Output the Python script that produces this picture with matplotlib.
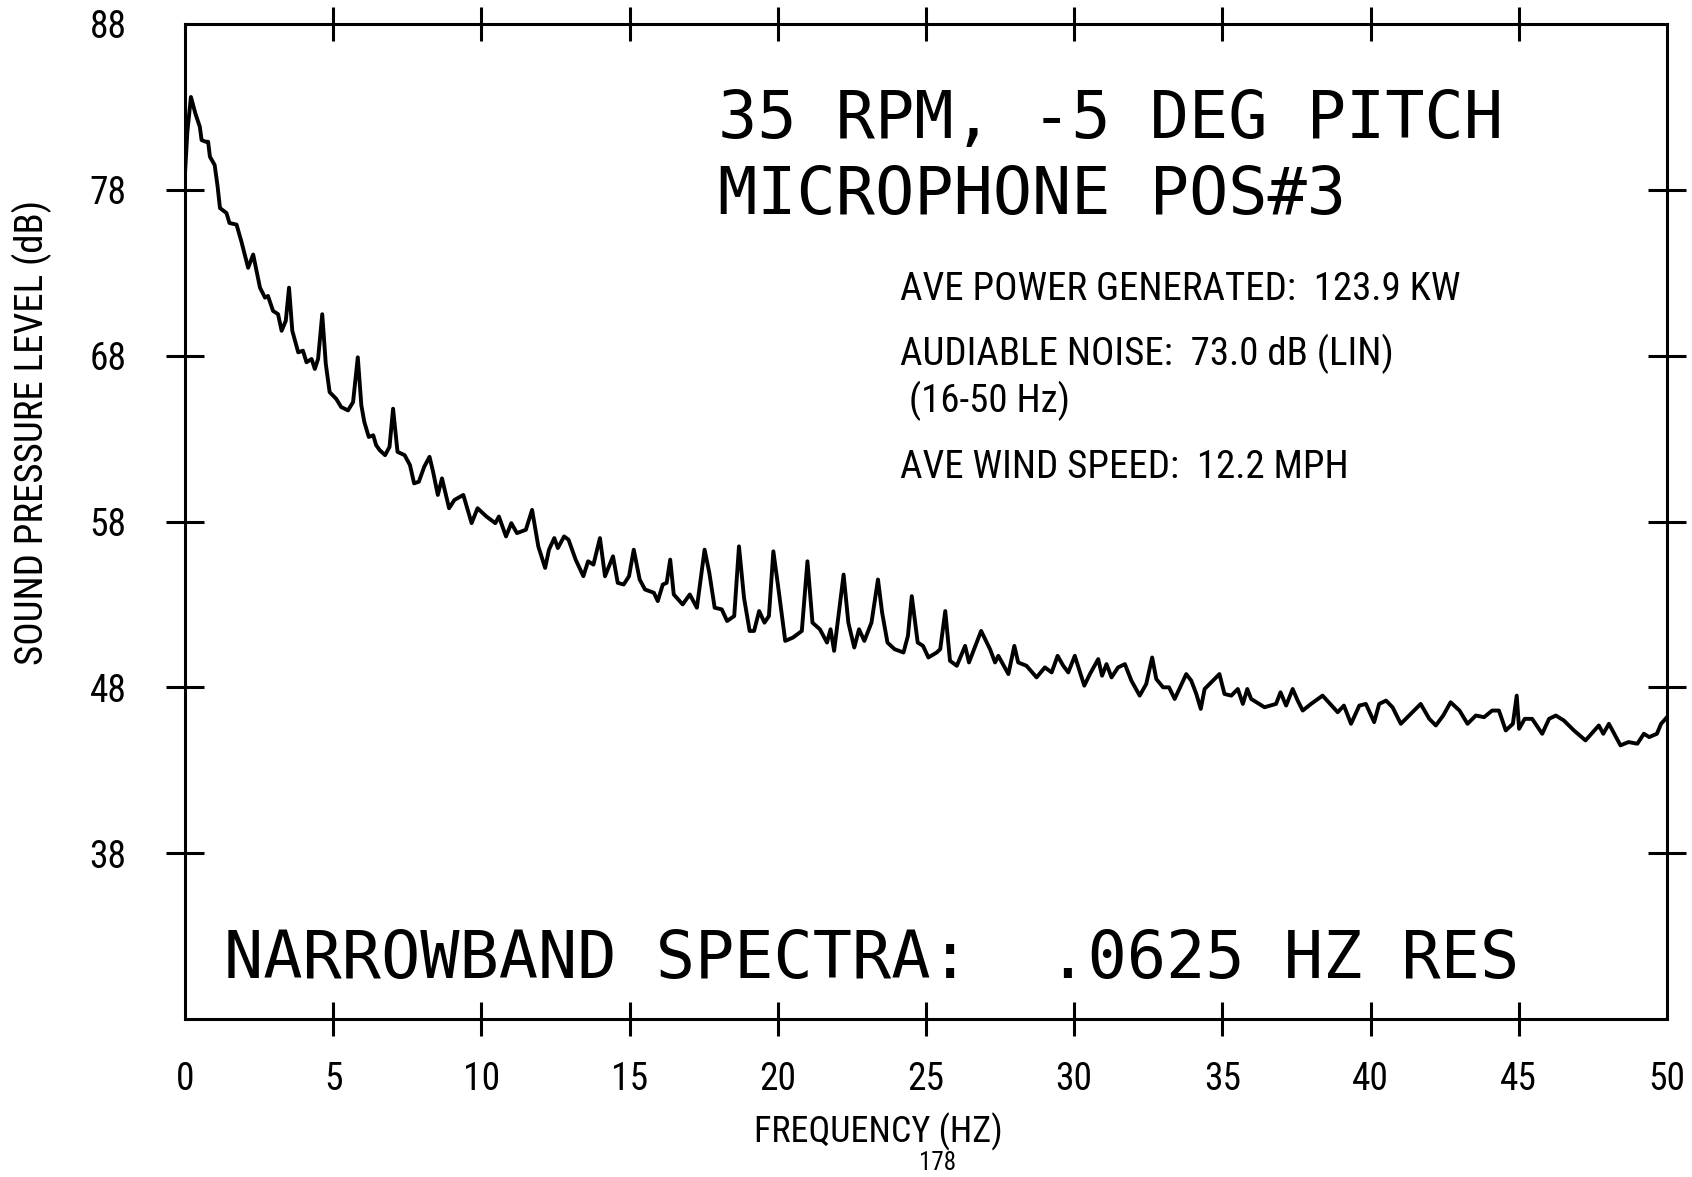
import matplotlib
matplotlib.use("Agg")
import matplotlib.pyplot as plt
from matplotlib import font_manager

# narrowband spectrum (Hz, dB)
freq = [0.0, 0.08, 0.2, 0.35, 0.5, 0.56, 0.7, 0.78, 0.84, 1.0, 1.1, 1.18, 1.4, 1.5, 1.74, 1.9,
        2.13, 2.3, 2.53, 2.7, 2.8, 2.97, 3.14, 3.26, 3.4, 3.51, 3.62, 3.82, 3.98, 4.1, 4.27, 4.38,
        4.49, 4.63, 4.75, 4.88, 5.1, 5.27, 5.5, 5.67, 5.83, 5.95, 6.05, 6.2, 6.35, 6.45, 6.57, 6.75,
        6.9, 7.02, 7.17, 7.41, 7.59, 7.73, 7.89, 8.07, 8.25, 8.37, 8.53, 8.67, 8.91, 9.09, 9.39, 9.67,
        9.87, 10.17, 10.47, 10.59, 10.83, 11.01, 11.2, 11.5, 11.71, 11.92, 12.15, 12.28, 12.46, 12.58,
        12.79, 12.94, 13.18, 13.44, 13.6, 13.78, 14.0, 14.17, 14.44, 14.6, 14.8, 14.98, 15.14, 15.34,
        15.52, 15.82, 15.95, 16.12, 16.25, 16.37, 16.49, 16.79, 17.03, 17.27, 17.53, 17.69, 17.87,
        18.11, 18.29, 18.53, 18.69, 18.86, 19.05, 19.2, 19.37, 19.55, 19.7, 19.85, 20.01, 20.25,
        20.51, 20.81, 21.0, 21.17, 21.42, 21.66, 21.78, 21.9, 22.22, 22.38, 22.58, 22.74, 22.92,
        23.16, 23.38, 23.52, 23.7, 23.94, 24.24, 24.39, 24.52, 24.72, 24.9, 25.08, 25.36, 25.48,
        25.65, 25.81, 26.04, 26.32, 26.45, 26.86, 27.05, 27.16, 27.33, 27.44, 27.78, 27.98, 28.11,
        28.39, 28.73, 29.01, 29.24, 29.44, 29.63, 29.8, 30.02, 30.34, 30.53, 30.81, 30.94, 31.09,
        31.26, 31.48, 31.71, 31.93, 32.21, 32.43, 32.63, 32.77, 33.0, 33.2, 33.39, 33.78, 33.95,
        34.12, 34.27, 34.4, 34.9, 35.07, 35.3, 35.52, 35.69, 35.84, 35.97, 36.42, 36.81, 36.96,
        37.15, 37.37, 37.54, 37.71, 37.99, 38.38, 38.89, 39.1, 39.34, 39.62, 39.84, 40.12, 40.29,
        40.52, 40.74, 41.02, 41.3, 41.69, 41.98, 42.2, 42.45, 42.7, 43.0, 43.27, 43.55, 43.83,
        44.1, 44.33, 44.56, 44.8, 44.93, 45.01, 45.2, 45.45, 45.79, 46.02, 46.25, 46.52, 46.86,
        47.25, 47.5, 47.7, 47.85, 48.04, 48.43, 48.7, 49.0, 49.22, 49.4, 49.66, 49.8, 50.0]
spl = [79.0, 81.5, 83.6, 82.6, 81.8, 81.0, 80.9, 80.9, 80.0, 79.5, 78.2, 76.9, 76.6, 76.0, 75.9, 74.9,
       73.3, 74.1, 72.1, 71.5, 71.6, 70.7, 70.5, 69.5, 70.1, 72.1, 69.5, 68.2, 68.3, 67.6, 67.8, 67.2,
       67.8, 70.5, 67.5, 65.8, 65.4, 64.9, 64.7, 65.2, 67.9, 65.0, 64.0, 63.1, 63.2, 62.6, 62.3, 62.0,
       62.5, 64.8, 62.2, 62.0, 61.4, 60.3, 60.4, 61.3, 61.9, 61.0, 59.6, 60.6, 58.8, 59.3, 59.6, 57.9,
       58.8, 58.3, 57.9, 58.3, 57.1, 57.9, 57.3, 57.5, 58.7, 56.5, 55.2, 56.3, 57.0, 56.4,
       57.1, 56.9, 55.7, 54.7, 55.6, 55.4, 57.0, 54.7, 55.9, 54.3, 54.2, 54.7, 56.3, 54.5,
       53.9, 53.7, 53.2, 54.2, 54.3, 55.7, 53.6, 53.0, 53.6, 52.8, 56.3, 54.9, 52.8,
       52.7, 52.0, 52.3, 56.5, 53.4, 51.4, 51.4, 52.6, 51.9, 52.3, 56.2, 54.1, 50.8,
       51.0, 51.4, 55.6, 51.9, 51.5, 50.7, 51.5, 50.2, 54.8, 51.9, 50.4, 51.5, 50.8,
       51.9, 54.5, 52.5, 50.7, 50.3, 50.1, 51.1, 53.5, 50.7, 50.5, 49.8, 50.1, 50.3,
       52.6, 49.6, 49.3, 50.5, 49.5, 51.4, 50.7, 50.3, 49.5, 49.9, 48.8, 50.5, 49.5,
       49.3, 48.6, 49.2, 48.9, 49.9, 49.3, 48.9, 49.9, 48.1, 48.8, 49.7, 48.7, 49.4,
       48.6, 49.2, 49.4, 48.4, 47.5, 48.2, 49.8, 48.5, 48.0, 48.0, 47.3, 48.8, 48.4,
       47.6, 46.7, 47.9, 48.8, 47.6, 47.5, 47.9, 47.0, 47.9, 47.3, 46.8, 47.0, 47.7,
       46.9, 47.9, 47.2, 46.6, 47.0, 47.5, 46.5, 46.9, 45.8, 46.9, 47.0, 45.9, 47.0,
       47.2, 46.8, 45.8, 46.3, 47.0, 46.1, 45.7, 46.3, 47.1, 46.6, 45.8, 46.3, 46.2,
       46.6, 46.6, 45.4, 45.8, 47.5, 45.5, 46.1, 46.1, 45.2, 46.1, 46.3, 46.0, 45.4,
       44.8, 45.3, 45.7, 45.2, 45.8, 44.5, 44.7, 44.6, 45.2, 45.0, 45.2, 45.8, 46.2]

x_ticks = [0, 5, 10, 15, 20, 25, 30, 35, 40, 45, 50]
y_ticks = [38, 48, 58, 68, 78, 88]
y_tick_labels = ["38", "48", "58", "68", "78", "88"]

title_lines = ["35 RPM, -5 DEG PITCH", "MICROPHONE POS#3"]
info_lines = ["AVE POWER GENERATED:  123.9 KW",
              "AUDIABLE NOISE:  73.0 dB (LIN)",
              " (16-50 Hz)",
              "AVE WIND SPEED:  12.2 MPH"]
footer = "NARROWBAND SPECTRA:  .0625 HZ RES"

W, H = 1692, 1177

# pick a condensed sans if one is around
available = {f.name for f in font_manager.fontManager.ttflist}
narrow = next((n for n in ["Liberation Sans Narrow", "Roboto Condensed", "Open Sans Condensed"]
               if n in available), None)
small_font = dict(family=narrow) if narrow else dict(family="DejaVu Sans", stretch="condensed")
mono_font = dict(family="DejaVu Sans Mono")

fig = plt.figure(figsize=(W / 100, H / 100), dpi=100)
ax = fig.add_axes([185 / W, 1 - 1019 / H, (1667 - 185) / W, (1019 - 24) / H])

ax.plot(freq, spl, color="black", lw=2.8, solid_joinstyle="round")
ax.set_xlim(0, 50)
ax.set_ylim(28, 88)

for s in ax.spines.values():
    s.set_linewidth(2.2)

# labels on major ticks (no marks), crossing tick marks on minor ticks
ax.xaxis.remove_overlapping_locs = False
ax.yaxis.remove_overlapping_locs = False
ax.set_xticks(x_ticks)
ax.set_xticklabels([str(v) for v in x_ticks], fontsize=27, **small_font)
ax.set_yticks(y_ticks)
ax.set_yticklabels(y_tick_labels, fontsize=27, **small_font)
ax.tick_params(which="major", length=0, pad=30)
ax.tick_params(axis="y", which="major", pad=42)
ax.set_xticks(x_ticks[1:-1], minor=True)
ax.set_yticks(y_ticks[:-1], minor=True)
ax.tick_params(which="minor", direction="inout", length=24, width=2.2,
               top=True, bottom=True, left=True, right=True)
ax.tick_params(axis="y", which="minor", length=27)

for i, line in enumerate(title_lines):
    fig.text(718 / W, 1 - (138 + 76 * i) / H, line, fontsize=47, va="baseline", **mono_font)

for line, yb in zip(info_lines, [300, 365, 412, 478]):
    fig.text(900 / W, 1 - yb / H, line, fontsize=28, va="baseline", **small_font)

fig.text(224 / W, 1 - 978 / H, footer, fontsize=47, va="baseline", **mono_font)

fig.text(32 / W, 1 - 432 / H, "SOUND PRESSURE LEVEL (dB)", rotation=90, fontsize=28,
         ha="center", va="center", **small_font)
fig.text(878 / W, 1 - 1142 / H, "FREQUENCY (HZ)", fontsize=26, ha="center", va="baseline",
         **small_font)
fig.text(937 / W, 1 - 1170 / H, "178", fontsize=18, ha="center", va="baseline", **small_font)

fig.savefig("out.png", dpi=100)
